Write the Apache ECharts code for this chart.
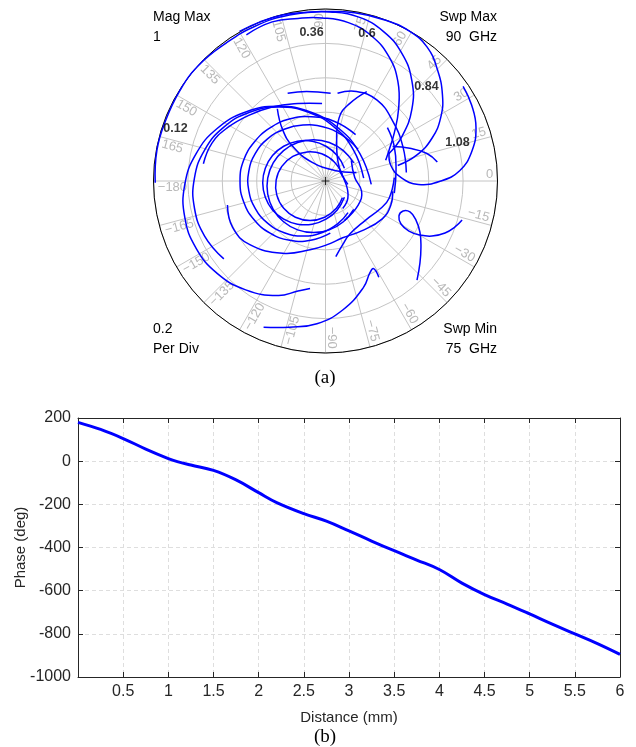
<!DOCTYPE html>
<html><head><meta charset="utf-8">
<script src="https://cdn.jsdelivr.net/npm/echarts@6.0.0/dist/echarts.min.js"></script>
<style>html,body{margin:0;padding:0;background:#fff}#c{width:636px;height:747px}</style>
</head><body><div id="c"></div>
<script>
// ---------- (a) polar plot: reflection coefficient traces (Re, Im) ----------
const angleTicks = [0,15,30,45,60,75,90,105,120,135,150,165,-180,-165,-150,-135,-120,-105,-90,-75,-60,-45,-30,-15];

const arcOuter = [[-0.99,-0.01],[-0.98,0.18],[-0.93,0.35],[-0.85,0.52],[-0.74,0.67],[-0.58,0.80],[-0.41,0.90],[-0.21,0.965],[0,0.985],[0.17,0.978],[0.35,0.935],[0.49,0.87],[0.59,0.78],[0.65,0.65],[0.68,0.50],[0.67,0.37],[0.62,0.25],[0.53,0.15],[0.42,0.09]];
const arcMid = [[-0.50,0.87],[-0.38,0.925],[-0.25,0.965],[-0.12,0.98],[0.026,0.983],[0.19,0.954],[0.336,0.87],[0.444,0.742],[0.502,0.584],[0.502,0.416],[0.444,0.258],[0.368,0.158]];
const arcInner = [[-0.46,0.85],[-0.31,0.925],[-0.16,0.945],[-0.02,0.948],[0.133,0.921],[0.268,0.843],[0.368,0.724],[0.421,0.578],[0.425,0.42],[0.40,0.28],[0.37,0.18],[0.35,0.12]];
const arcRight = [[0.80,0.55],[0.85,0.44],[0.875,0.31],[0.85,0.17],[0.78,0.06],[0.67,0.0],[0.54,-0.02],[0.44,0.02],[0.38,0.09],[0.37,0.17]];
const arcShort1 = [[0.39,0.20],[0.49,0.19],[0.59,0.16],[0.65,0.11]];
const arcA = [[0.24,0.52],[0.14,0.45],[0.08,0.37],[0.065,0.22],[0.08,0.08],[0.13,-0.02]];
const arcB = [[0.07,0.51],[0.18,0.52],[0.30,0.47],[0.39,0.35],[0.45,0.20],[0.47,0.05]];
const arcC = [[0.36,0.31],[0.40,0.20],[0.41,0.06],[0.40,-0.07]];
const arcLoop = [[0.794,-0.227],[0.753,-0.267],[0.695,-0.302],[0.619,-0.32],[0.549,-0.314],[0.485,-0.291],[0.439,-0.25],[0.427,-0.203],[0.451,-0.174],[0.491,-0.18],[0.526,-0.227],[0.549,-0.297],[0.555,-0.384],[0.549,-0.477],[0.532,-0.576]];
const arcHook = [[-0.36,-0.85],[-0.21,-0.85],[-0.05,-0.83],[0.10,-0.75],[0.22,-0.62],[0.26,-0.53],[0.28,-0.51],[0.31,-0.56]];
const arcRise = [[0.06,-0.44],[0.10,-0.37],[0.14,-0.31],[0.23,-0.23],[0.32,-0.16],[0.37,-0.10],[0.40,0.02]];
const loop1 = [[0.266,-0.020],[0.200,0.159],[0.078,0.305],[-0.088,0.401],[-0.276,0.434],[-0.464,0.401],[-0.630,0.305],[-0.752,0.159],[-0.818,-0.020],[-0.818,-0.212],[-0.752,-0.391],[-0.630,-0.537],[-0.464,-0.633],[-0.276,-0.666],[-0.16,-0.64],[-0.09,-0.625]];
const loop2 = [[0.222,0.017],[0.163,0.18],[0.051,0.313],[-0.099,0.40],[-0.27,0.43],[-0.441,0.40],[-0.591,0.313],[-0.703,0.18],[-0.762,0.017],[-0.762,-0.157],[-0.703,-0.32],[-0.591,-0.453]];
const loop2b = [[-0.71,0.10],[-0.66,0.22],[-0.57,0.31],[-0.45,0.38],[-0.31,0.43],[-0.16,0.45],[-0.02,0.45]];
const loop3 = [[-0.57,-0.14],[-0.54,-0.27],[-0.44,-0.37],[-0.25,-0.42],[-0.09,-0.40],[0.01,-0.37],[0.10,-0.33],[0.21,-0.29],[0.33,-0.22],[0.38,-0.14],[0.39,-0.06]];
const loop4 = [[0.175,0.27],[0.053,0.346],[-0.081,0.374],[-0.211,0.36],[-0.325,0.307],[-0.415,0.225],[-0.476,0.12],[-0.497,0],[-0.476,-0.12],[-0.415,-0.225],[-0.322,-0.303],[-0.208,-0.345],[-0.086,-0.345],[0.028,-0.303]];
const loop5 = [[0.189,0.185],[0.094,0.268],[-0.016,0.315],[-0.131,0.325],[-0.240,0.301],[-0.337,0.245],[-0.408,0.16],[-0.446,0.056],[-0.446,-0.056],[-0.408,-0.16],[-0.337,-0.245],[-0.240,-0.301],[-0.131,-0.32],[-0.022,-0.301],[0.075,-0.245],[0.131,-0.184]];
const loop6 = [[0.110,0.074],[0.068,0.148],[0.003,0.202],[-0.077,0.231],[-0.163,0.231],[-0.243,0.202],[-0.308,0.148],[-0.350,0.074],[-0.365,-0.01],[-0.350,-0.094],[-0.308,-0.168],[-0.243,-0.222],[-0.163,-0.251],[-0.077,-0.251],[0.003,-0.222],[0.068,-0.168],[0.110,-0.094]];
const loop7 = [[0.164,0.105],[0.104,0.177],[0.022,0.224],[-0.07,0.24],[-0.162,0.224],[-0.244,0.177],[-0.304,0.105],[-0.336,0.017],[-0.336,-0.077],[-0.304,-0.165],[-0.244,-0.237],[-0.162,-0.284],[-0.07,-0.30],[0.022,-0.284],[0.104,-0.237],[0.164,-0.165]];
const loop8 = [[0.098,0.038],[0.051,0.111],[-0.022,0.158],[-0.107,0.169],[-0.19,0.143],[-0.254,0.085],[-0.287,0.005],[-0.283,-0.082],[-0.243,-0.159],[-0.175,-0.211],[-0.09,-0.23],[-0.005,-0.211],[0.063,-0.159],[0.098,-0.098]];
const arcCross = [[-0.28,0.42],[-0.25,0.30],[-0.19,0.20],[-0.08,0.11],[0.06,0.06],[0.18,0.05]];
const arcTop = [[-0.22,0.51],[-0.11,0.52],[0.03,0.51]];
const arcD = [[0.08,0.06],[0.12,-0.02],[0.13,-0.10],[0.10,-0.16]];
const arcE = [[0.15,0.12],[0.17,0.02],[0.21,-0.06],[0.19,-0.14],[0.11,-0.23]];

const traces = [arcOuter, arcMid, arcInner, arcRight, arcShort1, arcA, arcB, arcC, arcLoop, arcHook, arcRise,
  loop1, loop2, loop2b, loop3, loop4, loop5, loop6, loop7, loop8, arcCross, arcTop, arcD, arcE];

const distLabels = ['0.12', '0.36', '0.6', '0.84', '1.08'];
const distLabelRe = [-0.872, -0.081, 0.241, 0.587, 0.767];
const distLabelIm = [0.305, 0.866, 0.86, 0.552, 0.224];

// ---------- (b) phase vs distance ----------
const distance = [0, 0.25, 0.5, 0.75, 1.0, 1.1, 1.25, 1.5, 1.75, 2.0, 2.2, 2.5, 2.75, 3.0, 3.25, 3.5, 3.75, 4.0, 4.25, 4.5, 4.75, 5.0, 5.25, 5.5, 5.75, 6.0];
const phase = [180, 147, 105, 56, 12, -2, -18, -43, -87, -146, -192, -243, -278, -323, -370, -415, -458, -502, -565, -618, -662, -708, -755, -800, -845, -895];

// ---------- build ----------
const CX = 325.5, CY = 181, R = 172;
const SANS = 'Liberation Sans, Arial, sans-serif';
const BLUE = '#0000ff';
const GRIDGRAY = '#c4c4c4';
const TXT = '#262626';

const tickLabelData = angleTicks.map(a => {
  const right = a >= -90 && a <= 90;
  let rot = right ? a : a - 180;
  if (rot < -180) rot += 360;
  return {
    value: [0.975, a < 0 ? a + 360 : a],
    label: {
      show: true, position: 'inside',
      formatter: String(a).replace('-', '\u2212'),
      rotate: rot,
      align: right ? 'right' : 'left',
      verticalAlign: right ? 'bottom' : 'top',
      color: '#a6a6a6', fontSize: 13, fontFamily: SANS
    }
  };
});

const series = [];
// smooth curves through the traced points, positioned by the cartesian scales
series.push({
  type: 'custom', xAxisIndex: 0, yAxisIndex: 0, silent: true, z: 3,
  data: traces.map(t => t[0]),
  renderItem: (params, api) => {
    const t = traces[params.dataIndex];
    const pts = t.map(p => api.coord(p));
    return {
      type: 'polyline',
      shape: { points: pts, smooth: 0.45 },
      style: { stroke: BLUE, lineWidth: 1.5, fill: null }
    };
  }
});
series.push({
  type: 'scatter', coordinateSystem: 'polar', polarIndex: 0, symbolSize: 0, silent: true,
  data: tickLabelData, z: 2
});
series.push({
  type: 'scatter', xAxisIndex: 0, yAxisIndex: 0, silent: true, symbolSize: 0, z: 5,
  data: distLabels.map((s, i) => ({
    value: [distLabelRe[i], distLabelIm[i]],
    label: { show: true, position: 'inside', formatter: s, color: '#000', fontWeight: 'bold', fontSize: 12.5, fontFamily: SANS }
  }))
});
series.push({
  type: 'scatter', xAxisIndex: 0, yAxisIndex: 0, silent: true, z: 6,
  symbol: 'path://M0,5L10,5M5,0L5,10', symbolSize: 8,
  itemStyle: { color: 'none', borderColor: '#000', borderWidth: 1 },
  data: [[0, 0]]
});
series.push({
  type: 'line', xAxisIndex: 1, yAxisIndex: 1, data: distance.map((d, i) => [d, phase[i]]),
  smooth: 0.4, showSymbol: false, symbol: 'none', silent: true,
  lineStyle: { color: BLUE, width: 3 }, z: 3
});

const axisLineStyle = { color: TXT, width: 1 };
const dashed = { show: true, lineStyle: { color: '#dedede', type: [4, 3], width: 1 } };

const option = {
  animation: false,
  backgroundColor: '#fff',
  polar: { center: [CX, CY], radius: R },
  angleAxis: {
    type: 'value', min: 0, max: 360, interval: 15, startAngle: 0, clockwise: false,
    axisLine: { show: true, lineStyle: { color: '#000', width: 1 } },
    axisTick: { show: false }, axisLabel: { show: false },
    splitLine: { show: true, lineStyle: { color: GRIDGRAY, width: 1 } }
  },
  radiusAxis: {
    type: 'value', min: 0, max: 1, interval: 0.2,
    axisLine: { show: false }, axisTick: { show: false }, axisLabel: { show: false },
    splitLine: { show: true, lineStyle: { color: GRIDGRAY, width: 1 } }
  },
  grid: [
    { left: CX - R, top: CY - R, width: 2 * R, height: 2 * R, outerBoundsMode: 'none', containLabel: false },
    { left: 78, right: 16, top: 418, bottom: 70, outerBoundsMode: 'none', containLabel: false }
  ],
  xAxis: [
    { gridIndex: 0, type: 'value', min: -1, max: 1, show: false },
    { gridIndex: 1, type: 'value', min: 0, max: 6, interval: 0.5,
      axisLine: { onZero: false, lineStyle: axisLineStyle },
      axisTick: { inside: true, length: 5, lineStyle: axisLineStyle },
      axisLabel: { color: TXT, fontSize: 16, fontFamily: SANS, margin: 7,
        formatter: v => (v === 0 ? '' : String(v)) },
      splitLine: dashed,
      name: 'Distance (mm)', nameLocation: 'middle', nameGap: 33,
      nameTextStyle: { color: TXT, fontSize: 15, fontFamily: SANS } },
    { gridIndex: 1, type: 'value', min: 0, max: 6, interval: 0.5, position: 'top',
      axisLine: { onZero: false, lineStyle: axisLineStyle },
      axisTick: { inside: true, length: 5, lineStyle: axisLineStyle },
      axisLabel: { show: false }, splitLine: { show: false } }
  ],
  yAxis: [
    { gridIndex: 0, type: 'value', min: -1, max: 1, show: false },
    { gridIndex: 1, type: 'value', min: -1000, max: 200, interval: 200,
      axisLine: { show: true, onZero: false, lineStyle: axisLineStyle },
      axisTick: { show: true, inside: true, length: 5, lineStyle: axisLineStyle },
      axisLabel: { color: TXT, fontSize: 16, fontFamily: SANS, margin: 7, formatter: v => String(v) },
      splitLine: dashed,
      name: 'Phase (deg)', nameLocation: 'middle', nameGap: 50, nameRotate: 90, nameMoveOverlap: false,
      nameTextStyle: { color: TXT, fontSize: 15, fontFamily: SANS } },
    { gridIndex: 1, type: 'value', min: -1000, max: 200, interval: 200, position: 'right',
      axisLine: { show: true, onZero: false, lineStyle: axisLineStyle },
      axisTick: { show: true, inside: true, length: 5, lineStyle: axisLineStyle },
      axisLabel: { show: false }, splitLine: { show: false } }
  ],
  graphic: [
    { type: 'text', x: 153, y: 17, style: { text: 'Mag Max', font: '14px ' + SANS, fill: '#000', align: 'left', verticalAlign: 'middle' } },
    { type: 'text', x: 153, y: 37, style: { text: '1', font: '14px ' + SANS, fill: '#000', align: 'left', verticalAlign: 'middle' } },
    { type: 'text', x: 497, y: 17, style: { text: 'Swp Max', font: '14px ' + SANS, fill: '#000', align: 'right', verticalAlign: 'middle' } },
    { type: 'text', x: 497, y: 37, style: { text: '90  GHz', font: '14px ' + SANS, fill: '#000', align: 'right', verticalAlign: 'middle' } },
    { type: 'text', x: 153, y: 329, style: { text: '0.2', font: '14px ' + SANS, fill: '#000', align: 'left', verticalAlign: 'middle' } },
    { type: 'text', x: 153, y: 349, style: { text: 'Per Div', font: '14px ' + SANS, fill: '#000', align: 'left', verticalAlign: 'middle' } },
    { type: 'text', x: 497, y: 329, style: { text: 'Swp Min', font: '14px ' + SANS, fill: '#000', align: 'right', verticalAlign: 'middle' } },
    { type: 'text', x: 497, y: 349, style: { text: '75  GHz', font: '14px ' + SANS, fill: '#000', align: 'right', verticalAlign: 'middle' } },
    { type: 'text', x: 325, y: 378, style: { text: '(a)', font: '19px Liberation Serif, Times New Roman, serif', fill: '#000', align: 'center', verticalAlign: 'middle' } },
    { type: 'text', x: 325, y: 737, style: { text: '(b)', font: '19px Liberation Serif, Times New Roman, serif', fill: '#000', align: 'center', verticalAlign: 'middle' } }
  ],
  series: series
};

const chart = echarts.init(document.getElementById('c'), null, { renderer: 'canvas', width: 636, height: 747 });
chart.setOption(option);
</script></body></html>
